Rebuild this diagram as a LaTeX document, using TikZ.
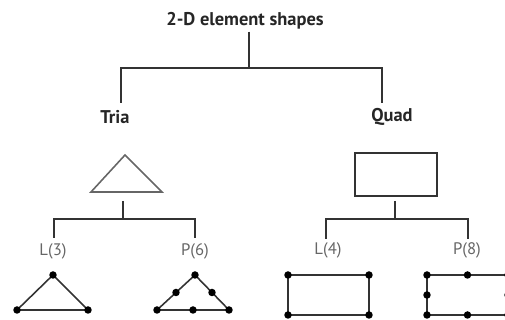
\documentclass[tikz,border=0pt]{standalone}
\usepackage{fontspec}
\setmainfont{PT Sans}
\usetikzlibrary{positioning, calc}

\tikzset{
  link/.style={draw=black!80, line width=1pt},
  edge/.style={draw=black!80, line width=0.9pt},
  head/.style={font=\fontsize{10.5}{12}\selectfont\bfseries, text=black!85, inner sep=1pt},
  lbl/.style={font=\fontsize{9.5}{11}\selectfont, text=black!60, inner sep=1pt},
  vtx/.style={circle, fill=black, inner sep=0pt, minimum size=1.5mm}
}

\begin{document}
\begin{tikzpicture}[x=0.02cm, y=-0.02cm]
\useasboundingbox (0,0) rectangle (505,320);
\clip (0,0) rectangle (505,320);

% Headings
\node[head, font=\fontsize{10.5}{12}\selectfont\bfseries] (title) at (245,21) {2-D element shapes};
\node[head] (tria) at (115,117) {Tria};
\node[head] (quad) at (392,117) {Quad};

% Top level tree
\coordinate (hub) at (249,68);
\coordinate (triaend) at (121,103);
\coordinate (quadend) at (382,103);
\draw[link] (title.south -| hub) -- (hub);
\draw[link] (triaend) |- (hub) -| (quadend);

% Basic shapes
\coordinate (tA) at (125,155);
\coordinate (tB) at (91,192);
\coordinate (tC) at (162,192);
\draw[edge, draw=black!60] (tA) -- (tB) -- (tC) -- cycle;
\coordinate (qA) at (355,153);
\coordinate (qC) at (437,196);
\draw[edge] (qA) rectangle (qC);

% Second level trees
\node[lbl] (l3) at (53,251) {L(3)};
\node[lbl] (p6) at (195,251) {P(6)};
\node[lbl] (l4) at (328,250) {L(4)};
\node[lbl] (p8) at (467,250) {P(8)};

\coordinate (triatop) at (123,201);
\coordinate (triahub) at (123,219);
\coordinate (l3end) at (54,238);
\coordinate (p6end) at (195,238);
\draw[link] (triatop) -- (triahub);
\draw[link] (l3end) |- (triahub) -| (p6end);

\coordinate (quadtop) at (395,201);
\coordinate (quadhub) at (395,219);
\coordinate (l4end) at (326,239);
\coordinate (p8end) at (468,239);
\draw[link] (quadtop) -- (quadhub);
\draw[link] (l4end) |- (quadhub) -| (p8end);

% L(3): linear triangle
\coordinate (a1) at (53,275);
\coordinate (a2) at (17,310);
\coordinate (a3) at (88,310);
\draw[edge] (a1) -- (a2) -- (a3) -- cycle;
\foreach \p in {a1,a2,a3} \node[vtx] at (\p) {};

% P(6): quadratic triangle
\coordinate (b1) at (195,275);
\coordinate (b2) at (157,310);
\coordinate (b3) at (229,310);
\draw[edge] (b1) -- (b2) -- (b3) -- cycle;
\foreach \p in {b1,b2,b3} \node[vtx] at (\p) {};
\node[vtx] at ($(b1)!0.5!(b2)$) {};
\node[vtx] at ($(b2)!0.5!(b3)$) {};
\node[vtx] at ($(b3)!0.5!(b1)$) {};

% L(4): linear quad
\coordinate (c1) at (288,275);
\coordinate (c2) at (369,275);
\coordinate (c3) at (369,315);
\coordinate (c4) at (288,315);
\draw[edge] (c1) -- (c2) -- (c3) -- (c4) -- cycle;
\foreach \p in {c1,c2,c3,c4} \node[vtx] at (\p) {};

% P(8): quadratic quad
\coordinate (d1) at (427,275);
\coordinate (d2) at (508,275);
\coordinate (d3) at (508,315);
\coordinate (d4) at (427,315);
\draw[edge] (d1) -- (d2) -- (d3) -- (d4) -- cycle;
\foreach \p in {d1,d2,d3,d4} \node[vtx] at (\p) {};
\node[vtx] at ($(d1)!0.5!(d2)$) {};
\node[vtx] at ($(d2)!0.5!(d3)$) {};
\node[vtx] at ($(d3)!0.5!(d4)$) {};
\node[vtx] at ($(d4)!0.5!(d1)$) {};

\end{tikzpicture}
\end{document}
